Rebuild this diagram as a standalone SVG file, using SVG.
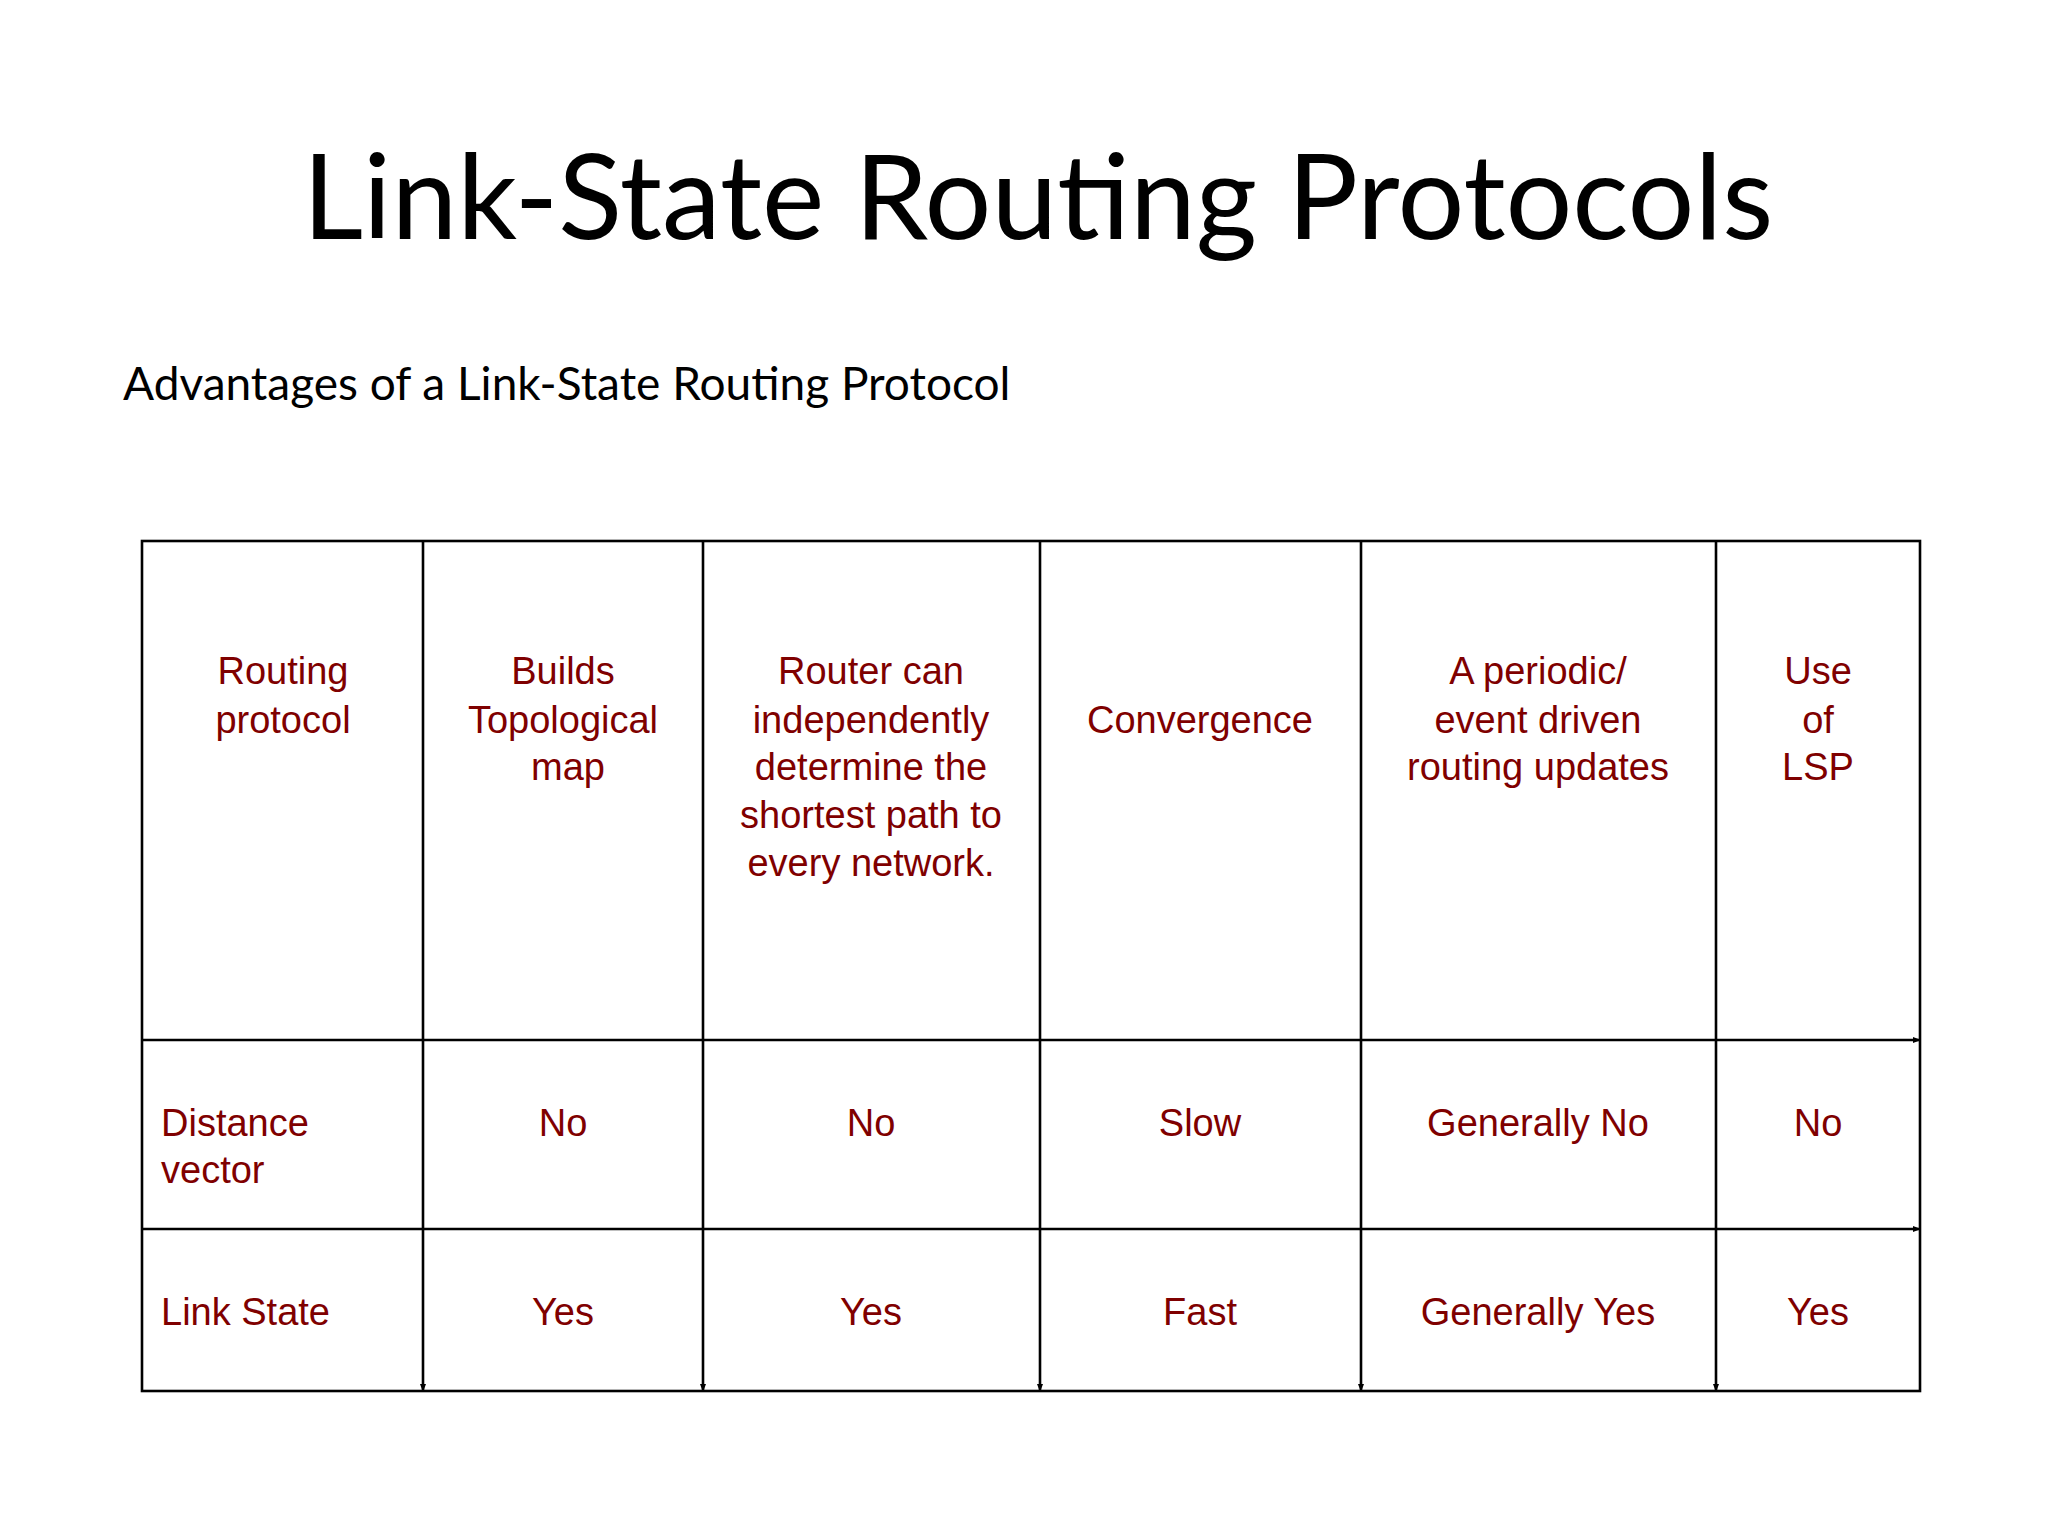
<svg xmlns="http://www.w3.org/2000/svg" width="2048" height="1536" viewBox="0 0 2048 1536">
<style>
.t{font-family:Lato,"Liberation Sans",sans-serif;fill:#000}
.c{font-family:"Liberation Sans",Arial,sans-serif;font-size:38px;fill:#7f0000;text-anchor:middle}
.l{text-anchor:start}
.g{stroke:#000;stroke-width:2.6;fill:none}
</style>
<defs><marker id="a" markerWidth="8" markerHeight="8" refX="7" refY="4" orient="auto" markerUnits="userSpaceOnUse"><path d="M0,1 L8,4 L0,7Z" fill="#000"/></marker></defs>
<rect width="2048" height="1536" fill="#fff"/>
<text class="t" x="1038" y="239" font-size="118" text-anchor="middle">Link-State Routing Protocols</text>
<text class="t" x="123" y="400" font-size="46">Advantages of a Link-State Routing Protocol</text>
<g id="connectors">
<rect class="g" x="142" y="541" width="1778" height="850"/>
<line class="g" x1="142" y1="1040" x2="1920" y2="1040" marker-end="url(#a)"/>
<line class="g" x1="142" y1="1229" x2="1920" y2="1229" marker-end="url(#a)"/>
<line class="g" x1="423" y1="541" x2="423" y2="1391" marker-end="url(#a)"/>
<line class="g" x1="703" y1="541" x2="703" y2="1391" marker-end="url(#a)"/>
<line class="g" x1="1040" y1="541" x2="1040" y2="1391" marker-end="url(#a)"/>
<line class="g" x1="1361" y1="541" x2="1361" y2="1391" marker-end="url(#a)"/>
<line class="g" x1="1716" y1="541" x2="1716" y2="1391" marker-end="url(#a)"/>
</g>
<g id="h1"><text class="c" x="283" y="684">Routing</text><text class="c" x="283" y="733">protocol</text></g>
<g id="h2"><text class="c" x="563" y="684">Builds</text><text class="c" x="563" y="733">Topological</text><text class="c" x="568" y="780">map</text></g>
<g id="h3"><text class="c" x="871" y="684">Router can</text><text class="c" x="871" y="733">independently</text><text class="c" x="871" y="780">determine the</text><text class="c" x="871" y="828">shortest path to</text><text class="c" x="871" y="876">every network.</text></g>
<g id="h4"><text class="c" x="1200" y="733">Convergence</text></g>
<g id="h5"><text class="c" x="1538" y="684">A periodic/</text><text class="c" x="1538" y="733">event driven</text><text class="c" x="1538" y="780">routing updates</text></g>
<g id="h6"><text class="c" x="1818" y="684">Use</text><text class="c" x="1818" y="733">of</text><text class="c" x="1818" y="780">LSP</text></g>
<g id="r1">
<text class="c l" x="161" y="1136">Distance</text><text class="c l" x="161" y="1183">vector</text>
<text class="c" x="563" y="1136">No</text><text class="c" x="871" y="1136">No</text><text class="c" x="1200" y="1136">Slow</text><text class="c" x="1538" y="1136">Generally No</text><text class="c" x="1818" y="1136">No</text>
</g>
<g id="r2">
<text class="c l" x="161" y="1325">Link State</text>
<text class="c" x="563" y="1325">Yes</text><text class="c" x="871" y="1325">Yes</text><text class="c" x="1200" y="1325">Fast</text><text class="c" x="1538" y="1325">Generally Yes</text><text class="c" x="1818" y="1325">Yes</text>
</g>
</svg>
